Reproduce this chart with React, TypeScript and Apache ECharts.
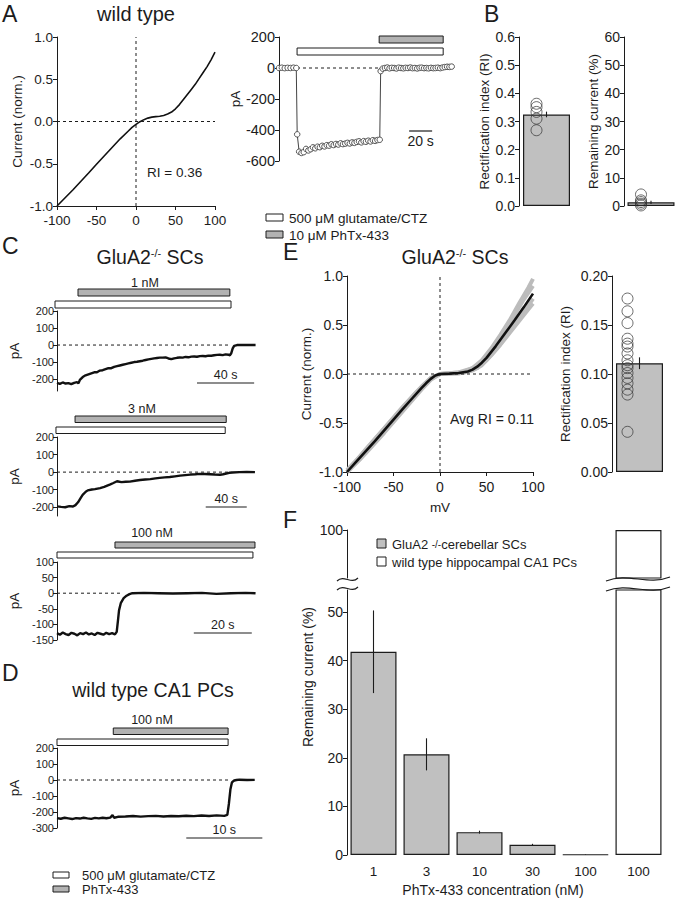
import React, { useEffect, useRef } from "react";
import * as echarts from "echarts";

const FONT = "'Liberation Sans', Arial, Helvetica, sans-serif";
const INK = "#1c1c1c";
const BAR_GRAY = "#c0c0c0";
const PROTO_GRAY = "#b2b2b2";

// ---------- Panel A ----------
const ivWildType: number[][] = [
  [-100, -1.0], [-90, -0.905], [-80, -0.81], [-70, -0.71], [-60, -0.61], [-50, -0.505],
  [-40, -0.405], [-30, -0.305], [-20, -0.205], [-10, -0.115], [-5, -0.07], [0, -0.035],
  [5, -0.002], [10, 0.022], [15, 0.04], [20, 0.052], [25, 0.058], [30, 0.063], [35, 0.072],
  [40, 0.088], [45, 0.112], [50, 0.15], [55, 0.2], [60, 0.26], [65, 0.32], [70, 0.38],
  [75, 0.44], [80, 0.51], [85, 0.58], [90, 0.65], [95, 0.73], [100, 0.82],
];
const riWildTypeText = "RI = 0.36";
const wtTimeCourse: number[][] = [
  [0, 0], [2.5, 2], [5, -1], [7.5, 1], [10, 0], [12.5, 2], [15, 0],
  [15.8, -428], [17.5, -540], [19.5, -548], [21.5, -543], [23.5, -522], [25.5, -532], [27.5, -524],
  [29.5, -512], [31.5, -518], [33.5, -508], [35.5, -511], [37.5, -502], [39.5, -506], [41.5, -498],
  [43.5, -501], [45.5, -492], [47.5, -497], [49.5, -490], [51.5, -494], [53.5, -486], [55.5, -491],
  [57.5, -488], [59.5, -483], [61.5, -487], [63.5, -480], [65.5, -483], [67.5, -477], [69.5, -473],
  [71.5, -480], [73.5, -472], [75.5, -476], [77.5, -469], [79.5, -474], [81.5, -466], [83.5, -470],
  [85.5, -465], [87.5, -463],
  [88.3, -20], [90, -4], [92, 0], [94, 3], [96, -2], [98, 1], [100, 0], [102, -3], [104, 2], [106, 0],
  [108, -2], [110, 1], [112, 0], [114, 3], [116, -1], [118, 0], [120, -3], [122, 1], [124, 2],
  [126, -1], [128, 0], [130, -2], [132, 1], [134, -1], [136, 0], [138, 2], [140, -1], [142, 3],
  [144, 6], [146, 8], [148, 7], [150, 9],
];
const wtGlutamate = [15.7, 142.6];
const wtPhTx = [87, 142.6];
const wtZeroLine = [0, 143];
const wtScale = [113, 133];

// ---------- Panel B ----------
const riCellsB = [0.363, 0.351, 0.334, 0.31, 0.269];
const riMeanB = 0.325;
const riSemB = 0.01;
const remCellsB = [4.1, 2.0, 1.4, 0.8, 0.2];
const remMeanB = 1.3;
const remSemB = 0.6;

// ---------- Panel C ----------
const trace1nM: number[][] = [
  [0, -222], [2, -228], [4, -220], [6, -226], [8, -224], [10, -230], [12, -222], [14, -218], [15, -225],
  [16, -205], [18, -188], [20, -178], [22, -172], [24, -166], [26, -160], [28, -160], [30, -150],
  [32, -148], [34, -142], [36, -136], [38, -136], [40, -128], [42, -124], [44, -120], [46, -116],
  [48, -112], [50, -108], [52, -104], [54, -100], [56, -98], [58, -95], [60, -92], [62, -88],
  [64, -84], [66, -81], [68, -78], [70, -76], [72, -74], [74, -74], [76, -73], [78, -79], [80, -83],
  [82, -78], [84, -75], [86, -73], [88, -74], [90, -70], [92, -72], [94, -68], [96, -67], [98, -69],
  [100, -65], [102, -64], [104, -66], [106, -62], [108, -63], [110, -60], [112, -58], [114, -57],
  [116, -59], [118, -55], [120, -57], [121, -60], [122, -48], [123, -20], [124, -5], [126, 0],
  [130, 1], [134, 0], [139, 0],
];
const glu1nM = [-1.4, 121.8];
const phtx1nM = [14.7, 121];
const zero1nM = [0, 121];
const scale1nM = [98, 138];

const trace3nM: number[][] = [
  [0, -195], [4, -198], [8, -200], [12, -194], [15.6, -196], [18, -188], [20.5, -172], [23, -148],
  [25, -130], [28, -112], [30, -104], [34, -99], [37, -97], [42, -91], [46, -84], [49, -77],
  [52, -70], [55, -62], [58.5, -52], [61, -55], [63, -57], [67, -55], [71, -54], [76, -49], [81, -45],
  [86, -42], [91, -40], [96, -36], [100, -33], [105, -30], [110, -28], [115, -24], [120, -20],
  [125, -17], [130, -14], [135, -12], [139, -10], [144, -11], [149, -12], [154, -14], [159, -15],
  [162, -12], [165, -8], [168, -4], [171, -2], [178, 0], [185, 1], [193, 0],
];
const glu3nM = [-1, 164];
const phtx3nM = [17.6, 165];
const zero3nM = [0, 170];
const scale3nM = [145, 185];

const trace100nM: number[][] = [
  [0, -128], [1, -133], [2, -126], [3, -131], [4, -134], [5, -127], [6, -130], [7, -135], [8, -128],
  [9, -131], [10, -126], [11, -132], [12, -129], [13, -134], [14, -127], [15, -130], [16, -133],
  [17, -127], [18, -131], [19, -128], [20, -132], [20.6, -124], [21, -90], [21.4, -55], [22, -32],
  [23, -16], [24, -8], [25, -3], [26, 0], [30, 1], [35, 0], [40, -1], [45, 0], [50, 1], [55, -2],
  [60, 0], [65, 1], [68.5, 0],
];
const glu100nM = [0, 67.6];
const phtx100nM = [20, 68.3];
const zero100nM = [0, 22];
const scale100nM = [47.2, 67.2];

// ---------- Panel D ----------
const traceCA1: number[][] = [
  [0, -238], [0.5, -242], [1, -236], [1.5, -240], [2, -244], [2.5, -238], [3, -241], [3.5, -236],
  [4, -240], [4.5, -243], [5, -237], [5.5, -240], [6, -236], [6.5, -239], [7, -235], [7.3, -220],
  [7.5, -236], [8, -230], [9, -228], [10, -225], [11, -229], [12, -226], [13, -224], [14, -228],
  [15, -225], [16, -227], [17, -223], [18, -226], [19, -222], [20, -225], [21, -221], [22, -224],
  [22.4, -218], [22.6, -150], [22.8, -60], [23, -15], [23.3, -3], [23.6, 0], [24, 2], [25, 0], [26, 1],
];
const gluCA1 = [0, 22.5];
const phtxCA1 = [7.4, 22.5];
const zeroCA1 = [0, 22.8];
const scaleCA1 = [17, 27];

// ---------- Panel E ----------
const ivKoMean: number[][] = [
  [-100, -1.0], [-90, -0.895], [-80, -0.79], [-70, -0.685], [-60, -0.575], [-50, -0.465],
  [-40, -0.355], [-30, -0.25], [-20, -0.145], [-15, -0.095], [-10, -0.05], [-5, -0.015], [0, 0],
  [10, 0.004], [20, 0.01], [30, 0.025], [35, 0.045], [40, 0.075], [45, 0.115], [50, 0.165],
  [60, 0.285], [70, 0.415], [80, 0.545], [90, 0.68], [100, 0.82],
];
const ivKoCell1: number[][] = [
  [-100, -1.0], [-80, -0.77], [-60, -0.555], [-40, -0.335], [-20, -0.13], [-10, -0.04], [0, 0],
  [20, 0.015], [35, 0.06], [45, 0.14], [55, 0.26], [65, 0.4], [75, 0.55], [85, 0.72], [95, 0.88], [100, 0.97],
];
const ivKoCell2: number[][] = [
  [-100, -1.0], [-80, -0.81], [-60, -0.6], [-40, -0.38], [-20, -0.16], [-10, -0.06], [0, 0],
  [20, 0.005], [35, 0.035], [45, 0.09], [55, 0.19], [65, 0.3], [75, 0.42], [85, 0.54], [95, 0.66], [100, 0.72],
];
const ivKoCell3: number[][] = [
  [-100, -1.0], [-85, -0.86], [-65, -0.64], [-45, -0.41], [-25, -0.19], [-10, -0.05], [0, 0],
  [25, 0.02], [40, 0.08], [50, 0.18], [60, 0.31], [70, 0.45], [80, 0.6], [90, 0.76], [100, 0.9],
];
const ivKoCell4: number[][] = [
  [-100, -0.98], [-85, -0.83], [-65, -0.61], [-45, -0.395], [-25, -0.18], [-10, -0.045], [0, 0],
  [25, 0.012], [40, 0.06], [50, 0.14], [60, 0.25], [70, 0.37], [80, 0.5], [90, 0.63], [100, 0.77],
];
const riCellsE = [0.177, 0.164, 0.152, 0.136, 0.131, 0.128, 0.121, 0.114, 0.109, 0.106, 0.101, 0.096, 0.0905, 0.084, 0.079, 0.041];
const riMeanE = 0.111;
const riSemE = 0.006;
const avgRiText = "Avg RI = 0.11";

// ---------- Panel F ----------
const fConcentrations = ["1", "3", "10", "30", "100", "100"];
const fRemaining = [41.8, 20.7, 4.7, 2.1, 0.1, 100];
const fSem = [8.5, 3.3, 0.3, 0.2, 0.05, 0];
const fGroup = ["ko", "ko", "ko", "ko", "ko", "wt"];
const fLowerTicks = [0, 10, 20, 30, 40, 50];
const fUpperTicks = [100];

// ---------------- helpers ----------------
function valueAxis(gridIndex: number, o: any = {}) {
  const { fontSize = 13.5, margin = 4, formatter, ...rest } = o;
  return {
    type: "value",
    gridIndex,
    axisLine: { show: true, onZero: false, lineStyle: { color: INK, width: 1 } },
    axisTick: { show: true, length: 4, lineStyle: { color: INK, width: 1 } },
    axisLabel: { color: INK, fontSize, fontFamily: FONT, margin, formatter },
    splitLine: { show: false },
    nameLocation: "middle",
    nameTextStyle: { color: INK, fontSize: 13.5, fontFamily: FONT },
    ...rest,
  };
}
function hiddenValueX(gridIndex: number, min: number, max: number) {
  return { type: "value", gridIndex, min, max, show: false, splitLine: { show: false } };
}
function hiddenCatX(gridIndex: number, data: string[]) {
  return { type: "category", gridIndex, data, show: false };
}
function traceSeries(idx: number, data: number[][], width = 2.4) {
  return {
    type: "line", xAxisIndex: idx, yAxisIndex: idx, data, symbol: "none", silent: true,
    lineStyle: { color: "#111", width }, z: 3,
  };
}
function zeroSeries(idx: number, range: number[]) {
  return {
    type: "line", xAxisIndex: idx, yAxisIndex: idx, symbol: "none", silent: true,
    data: range.map((t) => [t, 0]),
    lineStyle: { color: INK, width: 1, type: [3, 3] }, z: 4,
  };
}
function protocolSeries(idx: number, glu: number[], phtx: number[], whiteDy: number, grayDy: number, h: number) {
  return {
    type: "custom", xAxisIndex: idx, yAxisIndex: idx, silent: true, clip: false,
    data: [[glu[0], glu[1], 0], [phtx[0], phtx[1], 1]],
    renderItem: (params: any, api: any) => {
      const top = params.coordSys.y;
      const a = api.coord([api.value(0), 0]);
      const b = api.coord([api.value(1), 0]);
      const row = api.value(2);
      return {
        type: "rect",
        shape: { x: a[0], y: top + (row === 0 ? whiteDy : grayDy), width: b[0] - a[0], height: h },
        style: { fill: row === 0 ? "#ffffff" : PROTO_GRAY, stroke: INK, lineWidth: 1 },
      };
    },
  };
}
function scaleSeries(idx: number, range: number[], label: string, dy: number, below: boolean) {
  return {
    type: "custom", xAxisIndex: idx, yAxisIndex: idx, silent: true, clip: false,
    data: [[range[0], range[1]]],
    renderItem: (params: any, api: any) => {
      const y = params.coordSys.y + dy;
      const a = api.coord([api.value(0), 0]);
      const b = api.coord([api.value(1), 0]);
      return {
        type: "group",
        children: [
          { type: "line", shape: { x1: a[0], y1: y, x2: b[0], y2: y }, style: { stroke: INK, lineWidth: 1.2 } },
          {
            type: "text", x: (a[0] + b[0]) / 2, y: below ? y + 3 : y - 2,
            style: {
              text: label, fill: INK, fontSize: below ? 14 : 12.5, fontFamily: FONT,
              align: "center", verticalAlign: below ? "top" : "bottom",
              textAlign: "center", textVerticalAlign: below ? "top" : "bottom",
            },
          },
        ],
      };
    },
  };
}
function errorSeries(idx: number, items: number[][], dx = 0) {
  return {
    type: "custom", xAxisIndex: idx, yAxisIndex: idx, silent: true, z: 5,
    data: items,
    renderItem: (params: any, api: any) => {
      const hi = api.coord([api.value(0), api.value(1) + api.value(2)]);
      const lo = api.coord([api.value(0), api.value(1) - api.value(2)]);
      return {
        type: "line",
        shape: { x1: hi[0] + dx, y1: hi[1], x2: lo[0] + dx, y2: lo[1] },
        style: { stroke: INK, lineWidth: 1.1 },
      };
    },
  };
}
function circleSeries(idx: number, values: number[], offset: number) {
  return {
    type: "scatter", xAxisIndex: idx, yAxisIndex: idx, silent: true, z: 4,
    data: values.map((v) => [0, v]),
    symbol: "circle", symbolSize: 11, symbolOffset: [offset, 0],
    itemStyle: { color: "rgba(0,0,0,0)", borderColor: "#333", borderWidth: 0.9 },
  };
}
function txt(x: number, y: number, text: string, size: number, align = "left", extra: any = {}) {
  return {
    type: "text", x, y, silent: true, z: 100,
    style: {
      text, fill: INK, fontSize: size, fontFamily: FONT,
      align, textAlign: align, verticalAlign: "middle", textVerticalAlign: "middle", ...extra,
    },
  };
}
function koTitle(x: number, y: number) {
  return {
    type: "text", x, y, silent: true, z: 100,
    style: {
      text: "{m|GluA2}{s|-/-}{m| SCs}",
      align: "center", textAlign: "center", verticalAlign: "middle", textVerticalAlign: "middle",
      rich: {
        m: { fontSize: 19.5, fontFamily: FONT, fill: INK, color: INK },
        s: { fontSize: 11, fontFamily: FONT, fill: INK, color: INK, verticalAlign: "top" },
      },
    },
  };
}
function swatch(x: number, y: number, w: number, h: number, fill: string) {
  return { type: "rect", silent: true, z: 100, shape: { x, y, width: w, height: h }, style: { fill, stroke: INK, lineWidth: 1 } };
}
function squiggle(x1: number, y1: number, x2: number, y2: number, amp: number) {
  const w = x2 - x1;
  return {
    type: "bezierCurve", silent: true, z: 100,
    shape: { x1, y1, x2, y2, cpx1: x1 + w * 0.35, cpy1: y1 - amp, cpx2: x1 + w * 0.65, cpy2: y2 + amp },
    style: { stroke: INK, lineWidth: 1.2, fill: null },
  };
}

function buildOption() {
  const grid = [
    { left: 57, top: 37, width: 158, height: 169 },   // 0 A IV
    { left: 279, top: 37, width: 175, height: 124 },  // 1 A time course
    { left: 519, top: 37, width: 55, height: 169 },   // 2 B RI
    { left: 624, top: 37, width: 55, height: 169 },   // 3 B remaining
    { left: 57, top: 311, width: 200, height: 80 },   // 4 C 1 nM
    { left: 57, top: 437, width: 200, height: 79 },   // 5 C 3 nM
    { left: 57, top: 562, width: 200, height: 78 },   // 6 C 100 nM
    { left: 57, top: 748, width: 200, height: 80 },   // 7 D
    { left: 347, top: 276, width: 186, height: 196 }, // 8 E IV
    { left: 612, top: 276, width: 55, height: 196 },  // 9 E bar
    { left: 347, top: 590, width: 318, height: 265 }, // 10 F lower
    { left: 347, top: 530, width: 318, height: 48 },  // 11 F upper
  ];

  const fixed = (n: number) => (v: number) => v.toFixed(n);
  const pAticks = (vals: number[]) => ({
    axisLabel: { color: INK, fontSize: 11, fontFamily: FONT, margin: 3, customValues: vals },
    axisTick: { show: true, length: 4, lineStyle: { color: INK }, customValues: vals },
  });

  const xAxis = [
    valueAxis(0, { min: -100, max: 100, interval: 50, margin: 7 }),
    hiddenValueX(1, 0, 152),
    hiddenCatX(2, ["RI"]),
    hiddenCatX(3, ["rem"]),
    hiddenValueX(4, 0, 140),
    hiddenValueX(5, 0, 195),
    hiddenValueX(6, 0, 69),
    hiddenValueX(7, 0, 26.3),
    valueAxis(8, { min: -100, max: 100, interval: 50, margin: 8, fontSize: 14, name: "mV", nameGap: 28 }),
    hiddenCatX(9, ["RI"]),
    {
      type: "category", gridIndex: 10, data: fConcentrations,
      axisLine: { show: false }, axisTick: { show: false },
      axisLabel: { color: INK, fontSize: 13.5, fontFamily: FONT, margin: 9 },
    },
    hiddenCatX(11, fConcentrations),
  ];

  const yAxis = [
    valueAxis(0, { min: -1, max: 1, interval: 0.5, formatter: fixed(1), name: "Current (norm.)", nameGap: 33 }),
    valueAxis(1, { min: -600, max: 200, interval: 200, fontSize: 14.5, name: "pA", nameGap: 36 }),
    valueAxis(2, { min: 0, max: 0.6, interval: 0.1, fontSize: 14, formatter: fixed(1), name: "Rectification index (RI)", nameGap: 27 }),
    valueAxis(3, { min: 0, max: 60, interval: 10, fontSize: 14, name: "Remaining current (%)", nameGap: 23 }),
    valueAxis(4, { min: -270, max: 200, ...pAticks([200, 100, 0, -100, -200]), name: "pA", nameGap: 36 }),
    valueAxis(5, { min: -250, max: 200, ...pAticks([200, 100, 0, -100, -200]), name: "pA", nameGap: 36 }),
    valueAxis(6, { min: -150, max: 100, interval: 50, fontSize: 11, margin: 3, name: "pA", nameGap: 36 }),
    valueAxis(7, { min: -300, max: 200, interval: 100, fontSize: 11, margin: 3, name: "pA", nameGap: 36 }),
    valueAxis(8, { min: -1, max: 1, interval: 0.5, fontSize: 14, formatter: fixed(1), name: "Current (norm.)", nameGap: 34 }),
    valueAxis(9, { min: 0, max: 0.2, interval: 0.05, fontSize: 14, formatter: fixed(2), name: "Rectification index (RI)", nameGap: 40 }),
    valueAxis(10, {
      min: 0, max: 54.5,
      axisLabel: { color: INK, fontSize: 14, fontFamily: FONT, margin: 4, customValues: fLowerTicks },
      axisTick: { show: true, length: 4, lineStyle: { color: INK }, customValues: fLowerTicks },
    }),
    valueAxis(11, {
      min: 90.1, max: 100,
      axisLabel: { color: INK, fontSize: 14, fontFamily: FONT, margin: 4, customValues: fUpperTicks },
      axisTick: { show: true, length: 4, lineStyle: { color: INK }, customValues: fUpperTicks },
    }),
  ];

  const fBarData = fRemaining.map((v, i) => ({
    value: v,
    itemStyle: { color: fGroup[i] === "wt" ? "#ffffff" : BAR_GRAY, borderColor: INK, borderWidth: 1.2 },
  }));
  const fErr = fRemaining.map((v, i) => [i, v, fSem[i]]).filter((d) => d[2] > 0);

  const series: any[] = [
    // A IV
    zeroSeries(0, [-100, 100]),
    { type: "line", xAxisIndex: 0, yAxisIndex: 0, symbol: "none", silent: true, data: [[0, -1], [0, 1]], lineStyle: { color: INK, width: 1, type: [3, 3] } },
    { ...traceSeries(0, ivWildType, 1.6) },
    // A time course
    zeroSeries(1, wtZeroLine),
    {
      type: "line", xAxisIndex: 1, yAxisIndex: 1, data: wtTimeCourse, silent: true, z: 5,
      symbol: "circle", symbolSize: 5.5, showSymbol: true,
      lineStyle: { color: "#444", width: 1 },
      itemStyle: { color: "#ffffff", borderColor: "#444", borderWidth: 0.9 },
    },
    protocolSeries(1, wtGlutamate, wtPhTx, 11, -1, 7),
    scaleSeries(1, wtScale, "20 s", 94, true),
    // B
    { type: "bar", xAxisIndex: 2, yAxisIndex: 2, data: [riMeanB], barWidth: 47, silent: true, itemStyle: { color: BAR_GRAY, borderColor: INK, borderWidth: 1.2 } },
    circleSeries(2, riCellsB, -10),
    errorSeries(2, [[0, riMeanB, riSemB]]),
    { type: "bar", xAxisIndex: 3, yAxisIndex: 3, data: [remMeanB], barWidth: 47, silent: true, itemStyle: { color: BAR_GRAY, borderColor: INK, borderWidth: 1.2 } },
    circleSeries(3, remCellsB, -10),
    errorSeries(3, [[0, remMeanB, remSemB]]),
    // C
    zeroSeries(4, zero1nM), traceSeries(4, trace1nM), protocolSeries(4, glu1nM, phtx1nM, -10, -22, 7), scaleSeries(4, scale1nM, "40 s", 72, false),
    zeroSeries(5, zero3nM), traceSeries(5, trace3nM), protocolSeries(5, glu3nM, phtx3nM, -10, -21, 6.5), scaleSeries(5, scale3nM, "40 s", 70, false),
    zeroSeries(6, zero100nM), traceSeries(6, trace100nM), protocolSeries(6, glu100nM, phtx100nM, -10, -20, 6), scaleSeries(6, scale100nM, "20 s", 71, false),
    // D
    zeroSeries(7, zeroCA1), traceSeries(7, traceCA1), protocolSeries(7, gluCA1, phtxCA1, -9, -20, 6.5), scaleSeries(7, scaleCA1, "10 s", 90, false),
    // E IV
    ...[ivKoCell1, ivKoCell2, ivKoCell3, ivKoCell4].map((d) => ({
      type: "line", xAxisIndex: 8, yAxisIndex: 8, data: d, symbol: "none", silent: true,
      lineStyle: { color: "#bcbcbc", width: 4 }, z: 2,
    })),
    zeroSeries(8, [-100, 100]),
    { type: "line", xAxisIndex: 8, yAxisIndex: 8, symbol: "none", silent: true, data: [[0, -1], [0, 1]], lineStyle: { color: INK, width: 1, type: [3, 3] }, z: 4 },
    { ...traceSeries(8, ivKoMean, 2.6), z: 6 },
    // E bar
    { type: "bar", xAxisIndex: 9, yAxisIndex: 9, data: [riMeanE], barWidth: 47, silent: true, itemStyle: { color: BAR_GRAY, borderColor: INK, borderWidth: 1.2 } },
    circleSeries(9, riCellsE, -12),
    errorSeries(9, [[0, riMeanE, riSemE]]),
    // F
    { type: "bar", xAxisIndex: 10, yAxisIndex: 10, data: fBarData, barWidth: 46, clip: true, silent: true },
    errorSeries(10, fErr),
    { type: "bar", xAxisIndex: 11, yAxisIndex: 11, data: fBarData, barWidth: 46, clip: true, silent: true },
  ];

  const graphic: any[] = [
    txt(2, 14, "A", 23),
    txt(136, 14, "wild type", 20, "center"),
    txt(147, 172, riWildTypeText, 13.5),
    swatch(266, 214, 17, 7, "#ffffff"),
    txt(289, 218, "500 μM glutamate/CTZ", 13.5),
    swatch(266, 231, 17, 7, PROTO_GRAY),
    txt(289, 235, "10 μM PhTx-433", 13.5),
    txt(484, 14, "B", 23),
    txt(2, 246, "C", 23),
    koTitle(150, 257),
    txt(145, 283, "1 nM", 12.5, "center"),
    txt(142, 409, "3 nM", 12.5, "center"),
    txt(152, 533, "100 nM", 12.5, "center"),
    txt(2, 673, "D", 23),
    txt(153, 690, "wild type CA1 PCs", 19.5, "center"),
    txt(152, 720, "100 nM", 12.5, "center"),
    swatch(53, 872, 16, 6, "#ffffff"),
    txt(82, 875, "500 μM glutamate/CTZ", 13),
    swatch(53, 886, 16, 6, PROTO_GRAY),
    txt(82, 889, "PhTx-433", 13),
    txt(283, 252, "E", 23),
    koTitle(455, 257),
    txt(492, 419, avgRiText, 14, "center"),
    txt(283, 520, "F", 23),
    swatch(377, 539, 9, 9, BAR_GRAY),
    {
      type: "text", x: 392, y: 544, silent: true, z: 100,
      style: {
        text: "{m|GluA2 }{s|-/-}{m|cerebellar SCs}", verticalAlign: "middle", textVerticalAlign: "middle",
        rich: { m: { fontSize: 13, fontFamily: FONT, fill: INK }, s: { fontSize: 10, fontFamily: FONT, fill: INK } },
      },
    },
    swatch(377, 557, 9, 9, "#ffffff"),
    txt(392, 562, "wild type hippocampal CA1 PCs", 13),
    { ...txt(308, 677, "Remaining current (%)", 14, "center"), rotation: Math.PI / 2 },
    txt(493, 890, "PhTx-433 concentration (nM)", 14, "center"),
    squiggle(337, 581, 358, 578, 7),
    squiggle(337, 590, 358, 587, 7),
    squiggle(606, 581, 670, 577, 9),
    squiggle(606, 591, 670, 587, 9),
  ];

  return {
    animation: false,
    backgroundColor: "#ffffff",
    textStyle: { fontFamily: FONT },
    grid,
    xAxis,
    yAxis,
    series,
    graphic,
  };
}

export default function App() {
  const ref = useRef<HTMLDivElement>(null);
  useEffect(() => {
    if (!ref.current) return;
    const chart = echarts.init(ref.current, undefined, { renderer: "svg" });
    chart.setOption(buildOption() as any);
    return () => chart.dispose();
  }, []);
  return (
    <div
      ref={ref}
      style={{ position: "fixed", left: 0, top: 0, width: 678, height: 899, background: "#fff" }}
    />
  );
}
